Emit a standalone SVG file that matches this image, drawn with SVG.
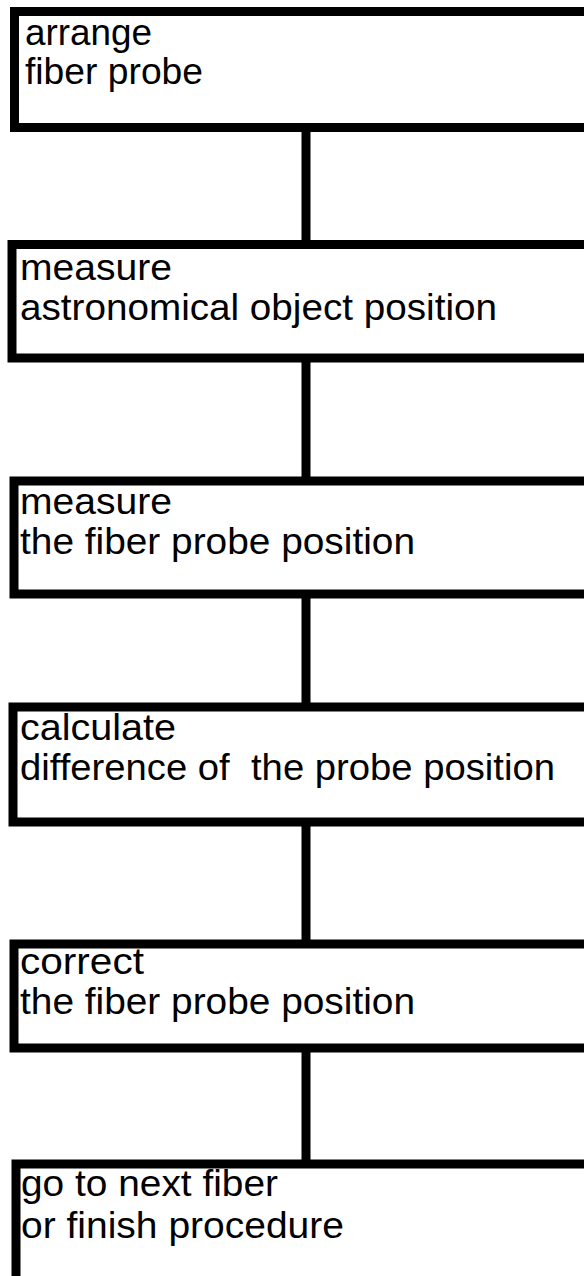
<svg xmlns="http://www.w3.org/2000/svg" width="584" height="1276" viewBox="0 0 584 1276">
<style>
.box{fill:#fff;stroke:#000;stroke-width:9}
.t{font-family:"Liberation Sans",Arial,sans-serif;font-size:37px;fill:#000}
.c{stroke:#000;stroke-width:9;fill:none}
</style>
<rect width="584" height="1276" fill="#fff"/>
<g id="connectors">
<line class="c" x1="306" y1="127" x2="306" y2="245"/>
<line class="c" x1="306" y1="358" x2="306" y2="481"/>
<line class="c" x1="306" y1="594" x2="306" y2="707"/>
<line class="c" x1="306" y1="822" x2="306" y2="944"/>
<line class="c" x1="306" y1="1048" x2="306" y2="1164"/>
</g>
<g id="n1">
<rect class="box" x="14.5" y="11.5" width="600" height="116"/>
<text class="t" x="25" y="45" textLength="127" lengthAdjust="spacingAndGlyphs">arrange</text>
<text class="t" x="25" y="84" textLength="178" lengthAdjust="spacingAndGlyphs">fiber probe</text>
</g>
<g id="n2">
<rect class="box" x="12" y="244.5" width="600" height="113.5"/>
<text class="t" x="20" y="280" textLength="152" lengthAdjust="spacingAndGlyphs">measure</text>
<text class="t" x="20" y="320" textLength="477" lengthAdjust="spacingAndGlyphs">astronomical object position</text>
</g>
<g id="n3">
<rect class="box" x="14" y="481" width="600" height="113"/>
<text class="t" x="20" y="514" textLength="152" lengthAdjust="spacingAndGlyphs">measure</text>
<text class="t" x="20" y="554" textLength="395" lengthAdjust="spacingAndGlyphs">the fiber probe position</text>
</g>
<g id="n4">
<rect class="box" x="13" y="707" width="600" height="115"/>
<text class="t" x="20" y="740" textLength="156" lengthAdjust="spacingAndGlyphs">calculate</text>
<text class="t" x="20" y="780" xml:space="preserve" textLength="535" lengthAdjust="spacingAndGlyphs">difference of  the probe position</text>
</g>
<g id="n5">
<rect class="box" x="14" y="944" width="600" height="104"/>
<text class="t" x="20" y="974" textLength="124" lengthAdjust="spacingAndGlyphs">correct</text>
<text class="t" x="20" y="1014" textLength="395" lengthAdjust="spacingAndGlyphs">the fiber probe position</text>
</g>
<g id="n6">
<rect class="box" x="16" y="1164" width="600" height="120"/>
<text class="t" x="21" y="1196" textLength="257" lengthAdjust="spacingAndGlyphs">go to next fiber</text>
<text class="t" x="21" y="1238" textLength="323" lengthAdjust="spacingAndGlyphs">or finish procedure</text>
</g>
</svg>
